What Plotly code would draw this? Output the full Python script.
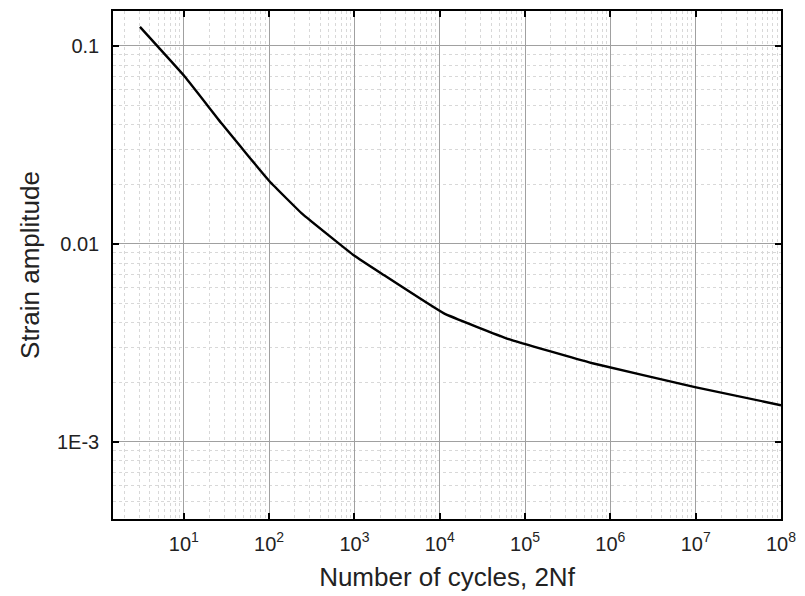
import plotly.graph_objects as go
import numpy as np

# Data
cycles = [3.06, 10.3, 27.8, 101, 245, 1000, 2090, 11200, 64300, 6.0e5, 9.8e6, 1.0e8]
strain = [0.1246, 0.0698, 0.0405, 0.0207, 0.01416, 0.0087, 0.00706, 0.00445, 0.0033, 0.00250, 0.00189, 0.00153]

x_tickvals = [1e1, 1e2, 1e3, 1e4, 1e5, 1e6, 1e7, 1e8]
x_ticktext = ["10<sup>%d</sup>" % i for i in range(1, 9)]
y_tickvals = [0.1, 0.01, 0.001]
y_ticktext = ["0.1", "0.01", "1E-3"]

fig = go.Figure()
fig.add_trace(go.Scatter(x=cycles, y=strain, mode="lines",
                         line=dict(color="black", width=2.4, shape="spline", smoothing=0.3),
                         showlegend=False))

font_family = "Liberation Sans, Arial, sans-serif"
common = dict(
    showline=True, linecolor="black", linewidth=1.5, mirror="ticks",
    ticks="inside", ticklen=6, tickwidth=1.5, tickcolor="black",
    showgrid=True, gridcolor="#a0a0a0", gridwidth=1,
    zeroline=False,
    tickfont=dict(family=font_family, size=20, color="#222"),
    minor=dict(dtick="D1", showgrid=True, gridcolor="#d8d8d8", griddash="dot", gridwidth=1, ticks=""),
)

fig.update_xaxes(type="log", range=[0.17, 8],
                 tickvals=x_tickvals, ticktext=x_ticktext,
                 ticklabelstandoff=6,
                 title=dict(text="Number of cycles, 2Nf", font=dict(family=font_family, size=26, color="#222"), standoff=14),
                 **common)
fig.update_yaxes(type="log", range=[-3.39, -0.824],
                 tickvals=y_tickvals, ticktext=y_ticktext,
                 ticklabelstandoff=8,
                 title=dict(text="Strain amplitude", font=dict(family=font_family, size=26, color="#222"), standoff=10),
                 **common)

fig.update_layout(
    width=805, height=596,
    margin=dict(l=113, r=23, t=9, b=77),
    paper_bgcolor="white", plot_bgcolor="white",
)

fig.write_html("out.html")
